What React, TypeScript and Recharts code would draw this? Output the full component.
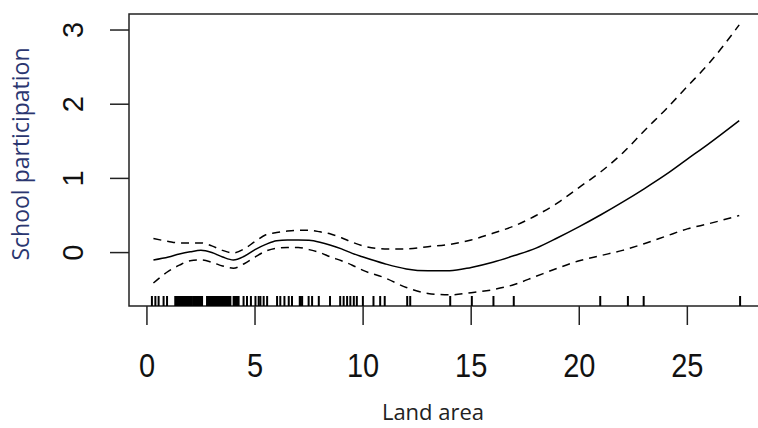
import React from "react";
import {
  ComposedChart,
  Line,
  Scatter,
  XAxis,
  YAxis,
  ReferenceArea,
} from "recharts";

const landArea = [
  0.3, 1, 1.5, 2, 2.5, 3, 3.5, 4, 4.5, 5, 5.5, 6, 6.5, 7, 7.5, 8, 8.5, 9, 9.5, 10,
  11, 12, 13, 14, 15, 16, 17, 18, 19, 20, 21, 22, 23, 24, 25, 26, 27.4,
];
// fitted smooth
const fit = [
  -0.1, -0.06, -0.02, 0.01, 0.03, 0.0, -0.06, -0.1, -0.05, 0.04, 0.11, 0.16, 0.17,
  0.17, 0.165, 0.14, 0.1, 0.05, -0.01, -0.06, -0.15, -0.22, -0.245, -0.245, -0.2,
  -0.13, -0.04, 0.06, 0.2, 0.35, 0.51, 0.68, 0.86, 1.05, 1.26, 1.47, 1.78,
];
// upper band (+2 se)
const upper = [
  0.19, 0.15, 0.13, 0.13, 0.13, 0.09, 0.03, -0.005, 0.05, 0.15, 0.24, 0.27, 0.29,
  0.3, 0.3, 0.28, 0.25, 0.2, 0.14, 0.09, 0.05, 0.05, 0.08, 0.11, 0.17, 0.26, 0.36,
  0.5, 0.67, 0.88, 1.09, 1.34, 1.64, 1.93, 2.24, 2.55, 3.07,
];
// lower band (-2 se)
const lower = [
  -0.41, -0.25, -0.17, -0.11, -0.1, -0.13, -0.18, -0.21, -0.15, -0.06, 0.02, 0.06,
  0.07, 0.07, 0.04, 0.0, -0.06, -0.11, -0.17, -0.24, -0.34, -0.47, -0.55, -0.57,
  -0.54, -0.5, -0.43, -0.32, -0.21, -0.11, -0.04, 0.03, 0.12, 0.22, 0.32, 0.39, 0.5,
];
// observed land area values (rug)
const rugValues = [
  0.23, 0.39, 0.54, 0.77, 0.93,
  1.31, 1.36, 1.41, 1.46, 1.51, 1.56, 1.61, 1.66, 1.71, 1.76, 1.81, 1.86, 1.91, 1.96,
  2.01, 2.06, 2.08,
  2.16, 2.21, 2.26, 2.31, 2.36, 2.41, 2.46, 2.51, 2.55,
  2.78, 2.83, 2.88, 2.93, 2.98, 3.03, 3.08, 3.13, 3.18, 3.23, 3.28, 3.33, 3.38, 3.43,
  3.48, 3.53, 3.58, 3.63, 3.68, 3.73, 3.78, 3.83, 3.86,
  4.01, 4.06, 4.11, 4.16, 4.21, 4.24, 4.47, 4.63, 4.81, 5.02, 5.17, 5.25, 5.4, 5.56,
  6.02, 6.17, 6.36, 6.56, 6.71, 7.07, 7.12, 7.18, 7.48, 7.64, 7.95, 8.47, 8.94, 9.1,
  9.26, 9.41, 9.57, 9.71, 9.99, 10.48, 10.79, 11.0, 12.04, 12.18, 14.03, 15.03,
  16.03, 16.97, 20.97, 22.25, 22.98, 27.44,
];
const xTicks = [0, 5, 10, 15, 20, 25];
const yTicks = [0, 1, 2, 3];

const X_MIN = -0.83;
const X_MAX = 28.5;
const Y_MIN = -0.72;
const Y_MAX = 3.216;

const data = landArea.map((x, i) => ({ x, fit: fit[i], upper: upper[i], lower: lower[i] }));
const rug = rugValues.map((x) => ({ x, y: Y_MIN }));

const XTick = ({ x, y, payload }: any) => (
  <g transform={`translate(${x},${y + 52}) scale(1,1.15)`}>
    <text textAnchor="middle" fontSize={29} fontFamily="Liberation Sans, Arial" fill="#111">
      {payload.value}
    </text>
  </g>
);

const YTick = ({ y, payload }: any) => (
  <text
    transform={`translate(83,${y}) rotate(-90)`}
    textAnchor="middle"
    fontSize={29}
    fontFamily="Liberation Sans, Arial"
    fill="#111"
  >
    {payload.value}
  </text>
);

const RugMark = ({ cx, cy }: any) => (
  <line x1={cx} x2={cx} y1={cy} y2={cy - 10} stroke="#000" strokeWidth={2} />
);

export default function App() {
  return (
    <div
      style={{
        position: "absolute",
        left: 0,
        top: 0,
        width: 758,
        height: 428,
        overflow: "hidden",
        background: "#fff",
      }}
    >
      <ComposedChart
        width={780}
        height={428}
        data={data}
        margin={{ top: 14, right: 17, bottom: 0, left: 0 }}
      >
        <XAxis
          dataKey="x"
          type="number"
          domain={[X_MIN, X_MAX]}
          ticks={xTicks}
          allowDataOverflow
          height={122}
          axisLine={false}
          tickSize={19}
          tickMargin={0}
          tickLine={{ stroke: "#222", strokeWidth: 1.5 }}
          tick={<XTick />}
          label={{
            content: () => (
              <text x={433} y={420} textAnchor="middle" fontSize={22} fontFamily="Open Sans" fill="#222">
                Land area
              </text>
            ),
          }}
        />
        <YAxis
          type="number"
          domain={[Y_MIN, Y_MAX]}
          ticks={yTicks}
          allowDataOverflow
          width={129}
          axisLine={false}
          tickSize={19}
          tickMargin={0}
          tickLine={{ stroke: "#222", strokeWidth: 1.5 }}
          tick={<YTick />}
          label={{
            content: () => (
              <text
                transform="translate(29,154) rotate(-90)"
                textAnchor="middle"
                fontSize={23}
                fontFamily="Open Sans"
                fill="#2a3670"
              >
                School participation
              </text>
            ),
          }}
        />
        <ReferenceArea
          x1={X_MIN}
          x2={X_MAX}
          y1={Y_MIN}
          y2={Y_MAX}
          fill="none"
          stroke="#222"
          strokeWidth={1.5}
          ifOverflow="visible"
        />
        <Line
          dataKey="upper"
          type="monotone"
          stroke="#000"
          strokeWidth={1.5}
          strokeDasharray="8 6"
          dot={false}
          isAnimationActive={false}
        />
        <Line
          dataKey="lower"
          type="monotone"
          stroke="#000"
          strokeWidth={1.5}
          strokeDasharray="8 6"
          dot={false}
          isAnimationActive={false}
        />
        <Line
          dataKey="fit"
          type="monotone"
          stroke="#000"
          strokeWidth={1.5}
          dot={false}
          isAnimationActive={false}
        />
        <Scatter data={rug} dataKey="y" shape={<RugMark />} isAnimationActive={false} />
      </ComposedChart>
    </div>
  );
}
